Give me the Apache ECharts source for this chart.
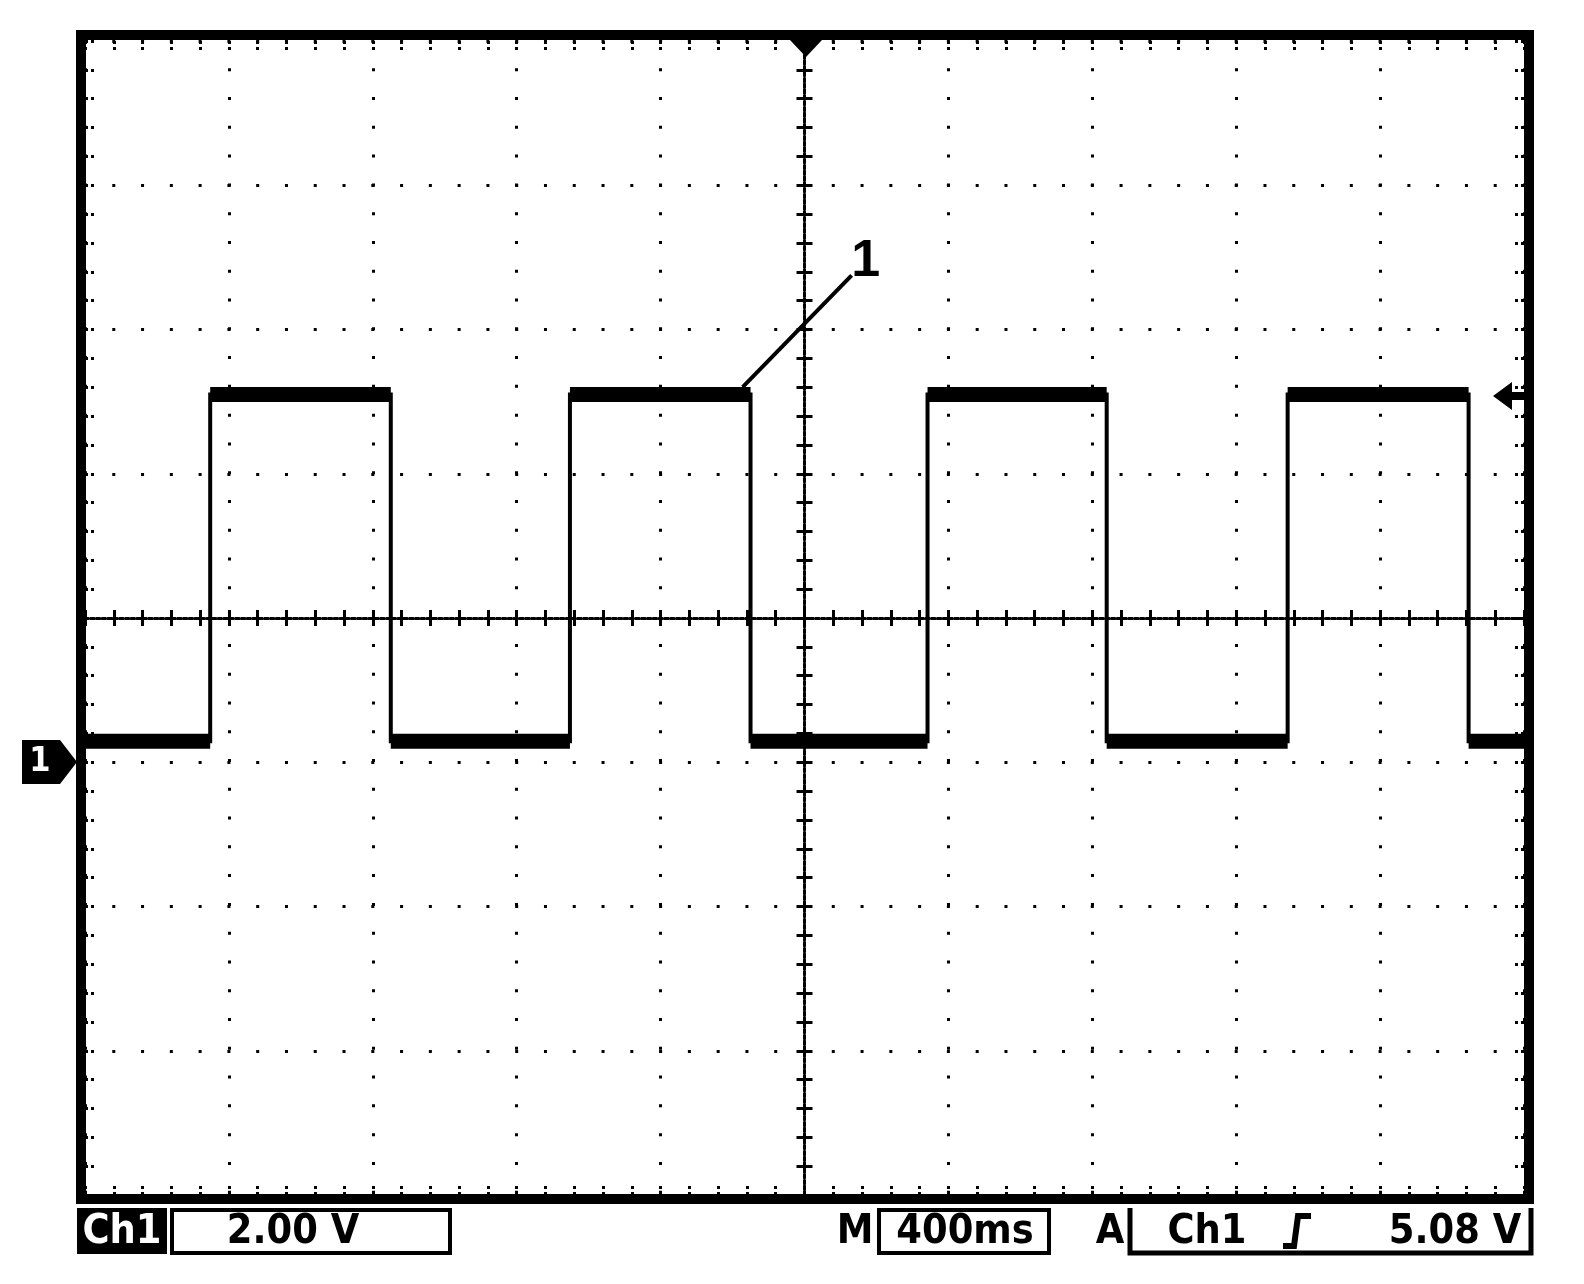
<!DOCTYPE html>
<html>
<head>
<meta charset="utf-8">
<script src="https://cdn.jsdelivr.net/npm/echarts@6/dist/echarts.min.js"></script>
<style>
html,body{margin:0;padding:0;background:#fff;}
#chart{width:1584px;height:1284px;}
</style>
</head>
<body>
<div id="chart"></div>
<script>
// ---- data (time in ms, 400 ms/div; voltage in V, 2 V/div) ----
const risingEdges = [-1652, -652, 342, 1343];
const fallingEdges = [-1150, -150, 840, 1846];
const highLevel = 5.1;
const lowLevel = 0.29;
const timeRange = [-2000, 2000];
const voltRange = [-6, 10];
const leaderLine = [[-172, 5.2], [131, 6.75]];
const leaderLabel = '1';
const statusTexts = ['Ch1', '2.00 V', 'M', '400ms', 'A', 'Ch1', '5.08 V'];

// build waveform from edges
const wave = [[timeRange[0], lowLevel]];
const highSegs = [];
const lowSegs = [[timeRange[0], lowLevel]];
for (let i = 0; i < risingEdges.length; i++) {
  const r = risingEdges[i], f = fallingEdges[i];
  wave.push([r, lowLevel], [r, highLevel], [f, highLevel], [f, lowLevel]);
  lowSegs.push([r, lowLevel], null);
  highSegs.push([r, highLevel], [f, highLevel], null);
  lowSegs.push([f, lowLevel]);
}
wave.push([timeRange[1], lowLevel]);
lowSegs.push([timeRange[1], lowLevel]);

const GL = 85, GT = 41, GW = 1439, GH = 1154;
const dotGap = GW / 50 - 3;

function edgeAxis(pos, isX) {
  return {
    type: 'value', gridIndex: 0, position: pos,
    min: isX ? timeRange[0] : voltRange[0],
    max: isX ? timeRange[1] : voltRange[1],
    interval: isX ? 400 : 2,
    axisLine: {show: false, onZero: false},
    axisLabel: {show: false},
    axisTick: {show: true, inside: true, length: 11, lineStyle: {color: '#000', width: 3, type: [3, 3]}},
    minorTick: {show: true, splitNumber: 5, length: 11, lineStyle: {color: '#000', width: 3, type: [3, 3]}},
    splitLine: {show: pos === 'bottom' || pos === 'left',
      lineStyle: {color: '#000', width: 3, type: [3, dotGap], dashOffset: 1.5}}
  };
}
function centerAxis(pos, isX) {
  return {
    type: 'value', gridIndex: 1, position: pos,
    min: isX ? timeRange[0] : -8,
    max: isX ? timeRange[1] : 8,
    interval: isX ? 400 : 2,
    axisLine: {show: true, onZero: true, lineStyle: {color: '#000', width: 3, type: [3, 2.8]}},
    axisLabel: {show: false},
    axisTick: {show: true, inside: true, length: 8, lineStyle: {color: '#000', width: 3}},
    minorTick: {show: true, splitNumber: 5, length: 8, lineStyle: {color: '#000', width: 3}},
    splitLine: {show: false}
  };
}

const font = "'DejaVu Sans Condensed', 'Liberation Sans Narrow', sans-serif";
function txt(x, y, s, color) {
  return {type: 'text', x: x, y: y, z: 110,
    style: {text: s, fill: color || '#000', font: 'bold 41px ' + font, align: 'center', verticalAlign: 'middle'}};
}

const chart = echarts.init(document.getElementById('chart'));
chart.setOption({
  backgroundColor: '#fff',
  animation: false,
  grid: [
    {left: GL, top: GT, width: GW, height: GH, show: false},
    {left: GL, top: GT, width: GW, height: GH, show: false}
  ],
  xAxis: [edgeAxis('bottom', true), edgeAxis('top', true), centerAxis('bottom', true), centerAxis('top', true)],
  yAxis: [edgeAxis('left', false), edgeAxis('right', false), centerAxis('left', false), centerAxis('right', false)],
  series: [
    {
      type: 'line', xAxisIndex: 0, yAxisIndex: 0, data: wave, showSymbol: false, z: 5,
      lineStyle: {color: '#000', width: 4, cap: 'butt', join: 'miter'},
      markLine: {
        silent: true, symbol: 'none', animation: false,
        lineStyle: {color: '#000', width: 4, type: 'solid'},
        label: {show: true, position: 'end', formatter: leaderLabel, color: '#000',
          fontSize: 52, fontWeight: 'bold', fontFamily: 'Liberation Sans, Arial, sans-serif',
          distance: 0, offset: [14, -14]},
        data: [[{coord: leaderLine[0]}, {coord: leaderLine[1]}]]
      }
    },
    {type: 'line', xAxisIndex: 0, yAxisIndex: 0, data: highSegs, showSymbol: false, connectNulls: false, z: 6,
      lineStyle: {color: '#000', width: 15, cap: 'butt'}},
    {type: 'line', xAxisIndex: 0, yAxisIndex: 0, data: lowSegs, showSymbol: false, connectNulls: false, z: 6,
      lineStyle: {color: '#000', width: 15, cap: 'butt'}}
  ],
  graphic: [
    {type: 'rect', z: 100, shape: {x: 81, y: 35, width: 1448, height: 1164}, style: {fill: 'none', stroke: '#000', lineWidth: 10}},
    {type: 'polygon', z: 100, shape: {points: [[790, 40], [822, 40], [806, 57]]}, style: {fill: '#000'}},
    {type: 'polygon', z: 100, shape: {points: [[22, 740], [60, 740], [77, 762], [60, 784], [22, 784]]}, style: {fill: '#000'}},
    {type: 'text', z: 110, x: 40, y: 762, style: {text: '1', fill: '#fff', font: 'bold 34px ' + font, align: 'center', verticalAlign: 'middle'}},
    {type: 'polygon', z: 100, shape: {points: [[1493, 396], [1512, 382], [1512, 392], [1525, 392], [1525, 400], [1512, 400], [1512, 410]]}, style: {fill: '#000'}},
    {type: 'rect', z: 100, shape: {x: 77, y: 1208, width: 90, height: 46}, style: {fill: '#000'}},
    txt(122, 1232, statusTexts[0], '#fff'),
    {type: 'rect', z: 100, shape: {x: 172, y: 1210, width: 278, height: 43}, style: {fill: 'none', stroke: '#000', lineWidth: 4}},
    txt(293, 1232, statusTexts[1]),
    txt(855, 1232, statusTexts[2]),
    {type: 'rect', z: 100, shape: {x: 879, y: 1210, width: 170, height: 43}, style: {fill: 'none', stroke: '#000', lineWidth: 4}},
    txt(965, 1232, statusTexts[3]),
    txt(1110, 1232, statusTexts[4]),
    {type: 'polyline', z: 100, shape: {points: [[1130, 1208], [1130, 1253], [1531, 1253], [1531, 1208]]}, style: {stroke: '#000', lineWidth: 5, fill: 'none'}},
    txt(1207, 1232, statusTexts[5]),
    {type: 'polyline', z: 100, shape: {points: [[1283, 1246], [1294, 1246], [1298, 1216], [1311, 1216]]}, style: {stroke: '#000', lineWidth: 6, fill: 'none'}},
    txt(1455, 1232, statusTexts[6])
  ]
});
</script>
</body>
</html>
